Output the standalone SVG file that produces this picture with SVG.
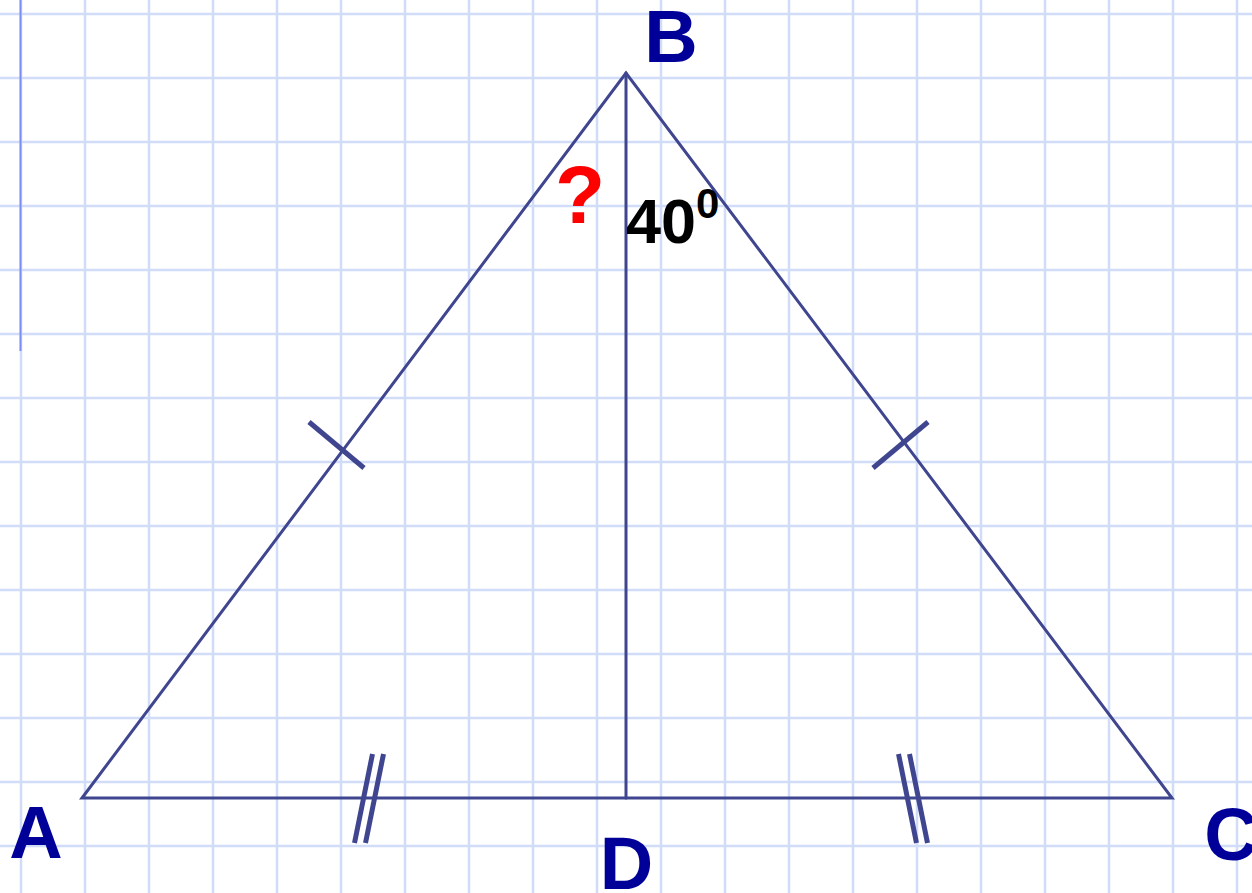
<svg xmlns="http://www.w3.org/2000/svg" width="1252" height="893" viewBox="0 0 1252 893">
<defs>
<style>
.grid line{stroke:#d0dcf8;stroke-width:2.5}
.edge{stroke:#3f468f;stroke-width:3;fill:none;stroke-linecap:round;stroke-linejoin:miter}
.tick{stroke:#3f468f;stroke-width:5;fill:none}
.lbl{font-family:"Liberation Sans",Arial,sans-serif;font-weight:bold;font-size:74px;fill:#000099;text-anchor:middle}
</style>
</defs>
<rect width="1252" height="893" fill="#ffffff"/>
<g class="grid" id="grid">
<line x1="21" y1="0" x2="21" y2="893"/><line x1="85" y1="0" x2="85" y2="893"/><line x1="149" y1="0" x2="149" y2="893"/><line x1="213" y1="0" x2="213" y2="893"/><line x1="277" y1="0" x2="277" y2="893"/><line x1="341" y1="0" x2="341" y2="893"/><line x1="405" y1="0" x2="405" y2="893"/><line x1="469" y1="0" x2="469" y2="893"/><line x1="533" y1="0" x2="533" y2="893"/><line x1="597" y1="0" x2="597" y2="893"/><line x1="661" y1="0" x2="661" y2="893"/><line x1="725" y1="0" x2="725" y2="893"/><line x1="789" y1="0" x2="789" y2="893"/><line x1="853" y1="0" x2="853" y2="893"/><line x1="917" y1="0" x2="917" y2="893"/><line x1="981" y1="0" x2="981" y2="893"/><line x1="1045" y1="0" x2="1045" y2="893"/><line x1="1109" y1="0" x2="1109" y2="893"/><line x1="1173" y1="0" x2="1173" y2="893"/><line x1="1237" y1="0" x2="1237" y2="893"/>
<line x1="0" y1="14" x2="1252" y2="14"/><line x1="0" y1="78" x2="1252" y2="78"/><line x1="0" y1="142" x2="1252" y2="142"/><line x1="0" y1="206" x2="1252" y2="206"/><line x1="0" y1="270" x2="1252" y2="270"/><line x1="0" y1="334" x2="1252" y2="334"/><line x1="0" y1="398" x2="1252" y2="398"/><line x1="0" y1="462" x2="1252" y2="462"/><line x1="0" y1="526" x2="1252" y2="526"/><line x1="0" y1="590" x2="1252" y2="590"/><line x1="0" y1="654" x2="1252" y2="654"/><line x1="0" y1="718" x2="1252" y2="718"/><line x1="0" y1="782" x2="1252" y2="782"/><line x1="0" y1="846" x2="1252" y2="846"/>
</g>
<line id="margin" x1="20.5" y1="0" x2="20.5" y2="351" stroke="#7b8cf8" stroke-width="2"/>
<g id="connectors">
<polygon class="edge" points="82,798 626,73 1172,798"/>
<line class="edge" x1="626" y1="73" x2="626" y2="798"/>
<line class="tick" x1="309" y1="422" x2="364" y2="468"/>
<line class="tick" x1="873" y1="468" x2="928" y2="422"/>
<line class="tick" x1="372.5" y1="754" x2="354.5" y2="843"/>
<line class="tick" x1="383.5" y1="754" x2="365.5" y2="843"/>
<line class="tick" x1="898.5" y1="754" x2="916.5" y2="843"/>
<line class="tick" x1="909.5" y1="754" x2="927.5" y2="843"/>
</g>
<g id="node-B"><text class="lbl" x="671" y="62">B</text></g>
<g id="node-A"><text class="lbl" x="36" y="858">A</text></g>
<g id="node-C"><text class="lbl" x="1231" y="860">C</text></g>
<g id="node-D"><text class="lbl" x="626.5" y="889">D</text></g>
<g id="label-q"><text x="580" y="223" font-family="'Liberation Sans',Arial,sans-serif" font-weight="bold" font-size="82" fill="#ff0000" text-anchor="middle">?</text></g>
<g id="label-angle"><text x="626" y="243" font-family="'Liberation Sans',Arial,sans-serif" font-weight="bold" font-size="63" fill="#000000">40<tspan font-size="42" dy="-25">0</tspan></text></g>
</svg>
